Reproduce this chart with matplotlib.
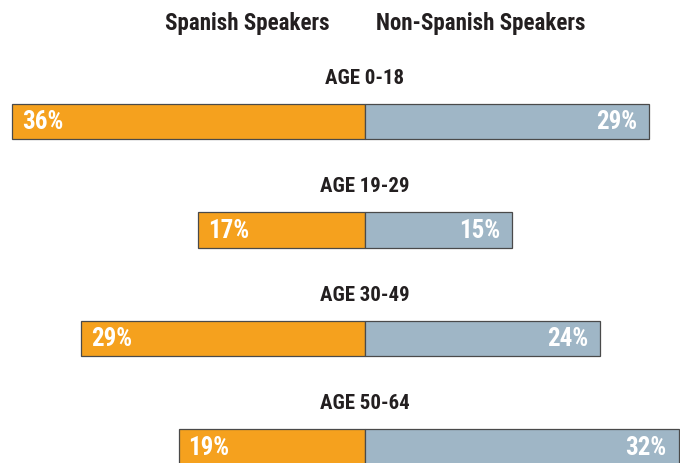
import matplotlib
matplotlib.use("Agg")
import matplotlib.pyplot as plt
from matplotlib import font_manager
from matplotlib.font_manager import FontProperties

# Data
age_groups = ["AGE 0-18", "AGE 19-29", "AGE 30-49", "AGE 50-64"]
spanish = [36, 17, 29, 19]
non_spanish = [29, 15, 24, 32]
headers = ["Spanish Speakers", "Non-Spanish Speakers"]

# pick a condensed bold font (Myriad Pro Condensed-like)
prefs = ["Roboto Condensed", "Open Sans Condensed", "PT Sans Narrow", "Fira Sans Condensed",
         "Barlow Semi Condensed", "Asap Condensed", "Archivo Narrow", "Barlow Condensed"]
fname = None
for p in prefs:
    cands = [f for f in font_manager.fontManager.ttflist
             if f.name == p and "Italic" not in f.fname and f.style == "normal"]
    if cands:
        cands.sort(key=lambda f: abs((f.weight if isinstance(f.weight, int) else 700) - 700))
        fname = cands[0].fname
        break

def fp(size):
    if fname:
        return FontProperties(fname=fname, size=size)
    return FontProperties(family="DejaVu Sans", weight="bold", size=size)

orange = "#F5A11E"
blue = "#9FB6C6"
edge = "#4a4a4a"
dark = "#231f20"

fig = plt.figure(figsize=(6.8, 4.63), dpi=100)
ax = fig.add_axes([0, 0, 1, 1])
ax.set_xlim(-37.25, 32.15)
ax.set_ylim(3.147, -1.12)
ax.axis("off")

pos = list(range(len(age_groups)))
h = 0.33
ax.barh(pos, [-v for v in spanish], height=h, color=orange, edgecolor=edge, linewidth=0.9)
ax.barh(pos, non_spanish, height=h, color=blue, edgecolor=edge, linewidth=0.9)

for i, (lab, s, n) in enumerate(zip(age_groups, spanish, non_spanish)):
    ax.text(0, i - 0.35, lab, ha="center", va="baseline", fontproperties=fp(15), color=dark)
    ax.text(-s + 1.0, i + 0.072, f"{s}%", ha="left", va="baseline", fontproperties=fp(18), color="white")
    ax.text(n - 1.2, i + 0.072, f"{n}%", ha="right", va="baseline", fontproperties=fp(18), color="white")

ax.text(-12.0, -0.843, headers[0], ha="center", va="baseline", fontproperties=fp(16.5), color=dark)
ax.text(11.8, -0.843, headers[1], ha="center", va="baseline", fontproperties=fp(16.5), color=dark)

fig.savefig("out.png", dpi=100)
